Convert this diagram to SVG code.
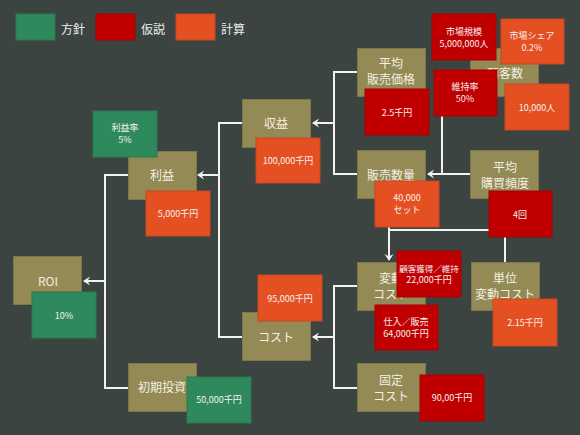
<svg xmlns="http://www.w3.org/2000/svg" width="580" height="435" viewBox="0 0 580 435">
<defs>
<marker id="arr" viewBox="-9 -5 10 10" markerWidth="10" markerHeight="10" refX="-1" refY="0" orient="auto" markerUnits="userSpaceOnUse">
<path d="M-7,-4.5 L0,0 L-7,4.5 L-4.5,0 Z" fill="#f2f2f2"/>
</marker>
<style>
.bg{fill:#3c4442}
.ol{fill:#938a55;stroke:#7d7649;stroke-width:1}
.gr{fill:#2e8a5d;stroke:#287a51;stroke-width:1}
.rd{fill:#c00000;stroke:#a80000;stroke-width:1}
.or{fill:#e55022;stroke:#c9461d;stroke-width:1}
.ln{fill:none;stroke:#f2f2f2;stroke-width:2}
text{font-family:"Noto Sans CJK JP","Noto Sans",sans-serif;text-anchor:middle;dominant-baseline:central}
.t{font-size:12px;fill:#f2f0e4}
.s{font-size:9px;fill:#f5f0ee}
.lg{font-size:12px;fill:#eeeeee;text-anchor:start}
</style>
</defs>
<rect class="bg" x="0" y="0" width="580" height="435"/>

<g id="legend">
<rect class="gr" x="16" y="14" width="39" height="26"/>
<text class="lg" x="61" y="28">方針</text>
<rect class="rd" x="96" y="14" width="39" height="26"/>
<text class="lg" x="141" y="28">仮説</text>
<rect class="or" x="176" y="14" width="39" height="26"/>
<text class="lg" x="221" y="28">計算</text>
</g>

<g id="connectors">
<path class="ln" d="M357,72 H334 V174 H357"/>
<path class="ln" d="M334,123 H313" marker-end="url(#arr)"/>
<path class="ln" d="M442,112 V174"/>
<path class="ln" d="M470,174 H428" marker-end="url(#arr)"/>
<path class="ln" d="M505,262 V230 H389 V224"/>
<path class="ln" d="M389,230 V260" marker-end="url(#arr)"/>
<path class="ln" d="M357,286 H334 V388 H357"/>
<path class="ln" d="M334,337 H313" marker-end="url(#arr)"/>
<path class="ln" d="M242,123 H219 V337 H242"/>
<path class="ln" d="M219,175 H198" marker-end="url(#arr)"/>
<path class="ln" d="M128,175 H105 V388 H128"/>
<path class="ln" d="M105,281 H84" marker-end="url(#arr)"/>
</g>

<g id="roi">
<rect class="ol" x="13.5" y="256.5" width="68" height="48"/>
<text class="t" x="48" y="280">ROI</text>
<rect class="gr" x="32" y="292" width="64" height="46"/>
<text class="s" x="64" y="315">10%</text>
</g>

<g id="rieki">
<rect class="ol" x="128.5" y="151.5" width="68" height="48"/>
<text class="t" x="162" y="174">利益</text>
<rect class="gr" x="93" y="111" width="64" height="46"/>
<text class="s" x="125" y="127.5">利益率</text>
<text class="s" x="125" y="139">5%</text>
<rect class="or" x="146" y="191" width="64" height="45"/>
<text class="s" x="178" y="213">5,000千円</text>
</g>

<g id="shueki">
<rect class="ol" x="242.5" y="99.5" width="68" height="48"/>
<text class="t" x="276" y="122">収益</text>
<rect class="or" x="256" y="138" width="64" height="45"/>
<text class="s" x="288" y="160">100,000千円</text>
</g>

<g id="heikin-hanbai-kakaku">
<rect class="ol" x="357.5" y="48.5" width="68" height="48"/>
<text class="t" x="391" y="62">平均</text>
<text class="t" x="391" y="78">販売価格</text>
<rect class="rd" x="365" y="89" width="64" height="46"/>
<text class="s" x="397" y="112">2.5千円</text>
</g>

<g id="kokyakusu">
<rect class="ol" x="470.5" y="48.5" width="68" height="48"/>
<text class="t" x="505" y="72">顧客数</text>
<rect class="rd" x="432" y="14" width="64" height="46"/>
<text class="s" x="464" y="31.5">市場規模</text>
<text class="s" x="464" y="43">5,000,000人</text>
<rect class="or" x="501" y="19" width="63" height="45"/>
<text class="s" x="532" y="35.5">市場シェア</text>
<text class="s" x="532" y="47">0.2%</text>
<rect class="rd" x="434" y="70" width="63" height="46"/>
<text class="s" x="465" y="86.5">維持率</text>
<text class="s" x="465" y="98">50%</text>
<rect class="or" x="505" y="84" width="64" height="46"/>
<text class="s" x="537" y="107">10,000人</text>
</g>

<g id="hanbai-suryo">
<rect class="ol" x="357.5" y="150.5" width="68" height="48"/>
<text class="t" x="391" y="174">販売数量</text>
<rect class="or" x="375" y="181" width="64" height="46"/>
<text class="s" x="407" y="197.5">40,000</text>
<text class="s" x="407" y="209">セット</text>
</g>

<g id="heikin-kobai-hindo">
<rect class="ol" x="470.5" y="150.5" width="68" height="48"/>
<text class="t" x="505" y="166.5">平均</text>
<text class="t" x="505" y="182">購買頻度</text>
<rect class="rd" x="489" y="191" width="63" height="46"/>
<text class="s" x="520" y="214">4回</text>
</g>

<g id="hendo-cost">
<rect class="ol" x="357.5" y="262.5" width="68" height="48"/>
<text class="t" x="391" y="277">変動</text>
<text class="t" x="391" y="293">コスト</text>
<rect class="rd" x="397" y="251" width="64" height="46"/>
<text class="s" x="429" y="267.5" style="font-size:8.5px">顧客獲得／維持</text>
<text class="s" x="429" y="279">22,000千円</text>
<rect class="rd" x="375" y="305" width="63" height="45"/>
<text class="s" x="406" y="321.5">仕入／販売</text>
<text class="s" x="406" y="333">64,000千円</text>
</g>

<g id="tani-hendo-cost">
<rect class="ol" x="471.5" y="262.5" width="68" height="48"/>
<text class="t" x="505" y="277">単位</text>
<text class="t" x="505" y="293">変動コスト</text>
<rect class="or" x="493" y="299" width="64" height="47"/>
<text class="s" x="525" y="322">2.15千円</text>
</g>

<g id="cost">
<rect class="ol" x="242.5" y="312.5" width="68" height="48"/>
<text class="t" x="276" y="336">コスト</text>
<rect class="or" x="258" y="275" width="64" height="46"/>
<text class="s" x="290" y="298">95,000千円</text>
</g>

<g id="kotei-cost">
<rect class="ol" x="357.5" y="363.5" width="68" height="48"/>
<text class="t" x="391" y="379">固定</text>
<text class="t" x="391" y="395">コスト</text>
<rect class="rd" x="420" y="375" width="64" height="46"/>
<text class="s" x="452" y="397">90,00千円</text>
</g>

<g id="shoki-toshi">
<rect class="ol" x="128.5" y="363.5" width="68" height="48"/>
<text class="t" x="162" y="386">初期投資</text>
<rect class="gr" x="187" y="377" width="64" height="46"/>
<text class="s" x="219" y="399">50,000千円</text>
</g>
</svg>
